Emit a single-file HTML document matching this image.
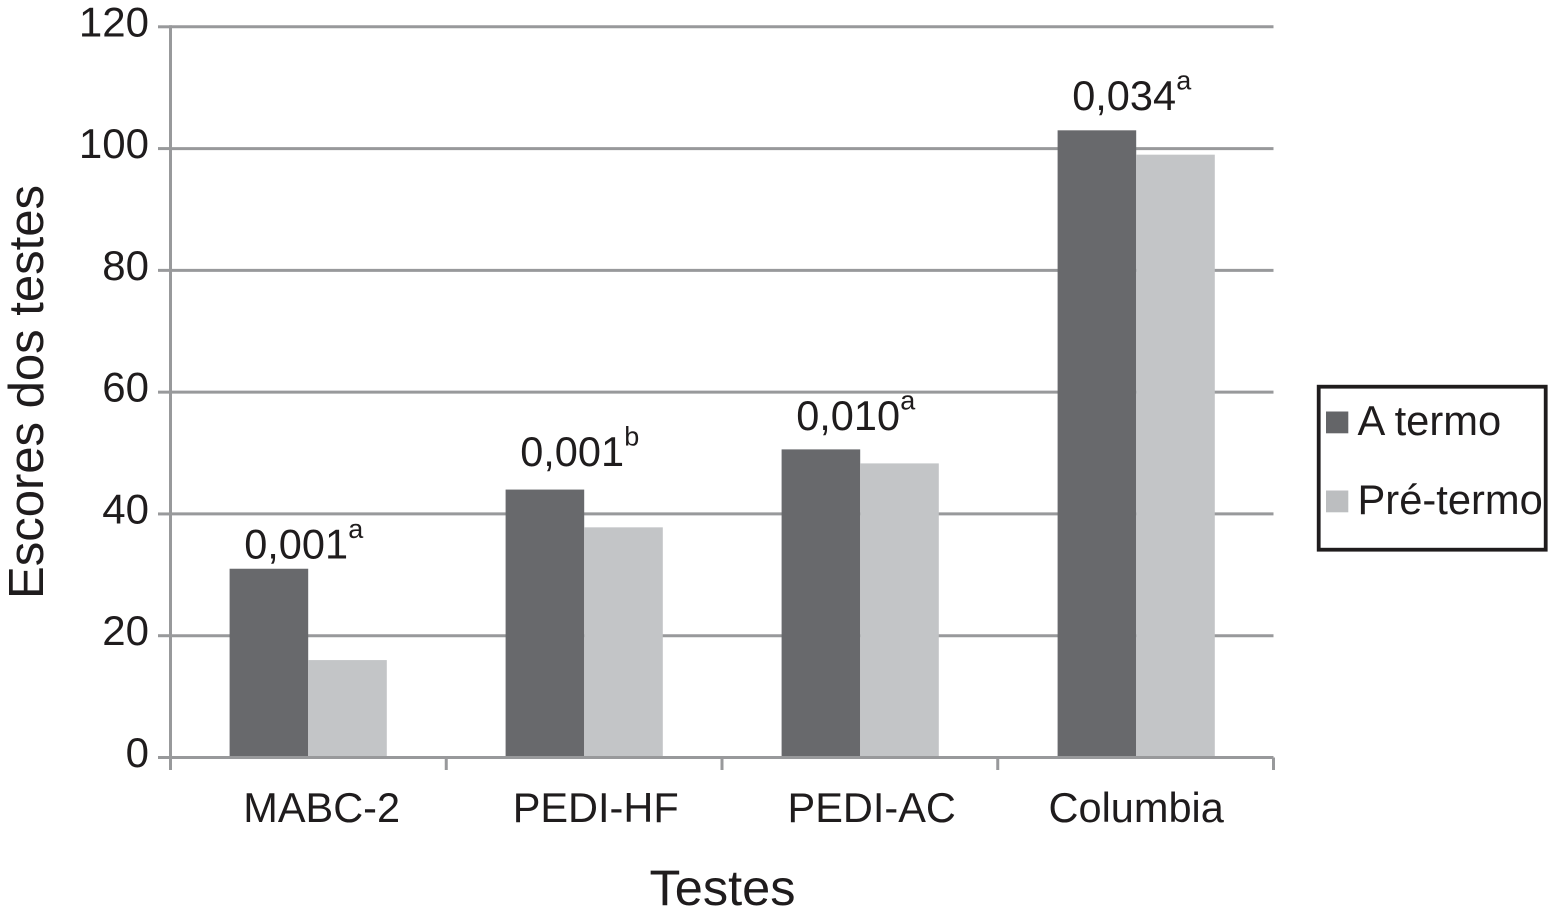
<!DOCTYPE html>
<html>
<head>
<meta charset="utf-8">
<style>
html,body{margin:0;padding:0;background:#fff;width:1548px;height:916px;overflow:hidden}
svg{display:block;font-family:"Liberation Sans",sans-serif;fill:#1f1c1d}
</style>
</head>
<body>
<svg id="chart" width="1548" height="916" viewBox="0 0 1548 916" xmlns="http://www.w3.org/2000/svg"></svg>
<script>
const categories = ["MABC-2", "PEDI-HF", "PEDI-AC", "Columbia"];
const termoValues = [31, 44, 50.6, 103];
const pretermoValues = [16, 37.8, 48.3, 99];
const pValues = ["0,001", "0,001", "0,010", "0,034"];
const pMarks = ["a", "b", "a", "a"];
const pLabelLift = [1.7, 3.9, 3.2, 3.3];
const yTicks = [0, 20, 40, 60, 80, 100, 120];
const seriesNames = ["A termo", "Pré-termo"];

const svg = document.getElementById('chart');
const NS = 'http://www.w3.org/2000/svg';
const left = 170.5, right = 1273.5, top0 = 26.8, bottom = 757.5, yMax = 120;
const axisColor = '#98999b';
const y = v => bottom - (v / yMax) * (bottom - top0);
const band = (right - left) / categories.length;
const x = i => left + band * i;
const barCenter = i => 308.2 + 276 * i;
const barW = 78.6;
const xLabelShift = i => (i === 3 ? 0 : i === 0 ? 13.5 : 11.5);

function mk(tag, attrs, text) {
  const el = document.createElementNS(NS, tag);
  for (const k in attrs) el.setAttribute(k, attrs[k]);
  if (text !== undefined) el.textContent = text;
  svg.appendChild(el);
  return el;
}

yTicks.forEach(t => {
  if (t > 0) {
    const g = mk('line', {x1: left, x2: right, y1: y(t), y2: y(t), stroke: axisColor, 'stroke-width': 3});
    
    
  }
  const tk = mk('line', {x1: 158, x2: left, y1: y(t), y2: y(t), stroke: axisColor, 'stroke-width': 3});
  
  
  const lb = mk('text', {x: 149, y: y(t) + 9.5, 'text-anchor': 'end', 'font-size': 42}, t);
  
  
});

categories.forEach((c, i) => {
  const cx = barCenter(i);
  const h1 = y(termoValues[i]);
  const b1 = mk('rect', {x: cx - barW, y: h1, width: barW, height: 757 - h1, fill: '#68696c'});
  
  
  const h2 = y(pretermoValues[i]);
  const b2 = mk('rect', {x: cx, y: h2, width: barW, height: 757 - h2, fill: '#c3c5c7'});
  
  
  const lb = mk('text', {x: cx + xLabelShift(i), y: 822, 'text-anchor': 'middle', 'font-size': 41.5}, c);
  
  
  const base = y(termoValues[i] + pLabelLift[i]);
  const p = mk('text', {x: cx - 79 + 15, y: base, 'font-size': 41.5}, pValues[i]);
  
  
  const m = mk('text', {x: cx - 79 + 119, y: base - 20.5, 'font-size': 27}, pMarks[i]);
  
  
});

const axisY = mk('line', {x1: left, x2: left, y1: top0 - 1.5, y2: 770, stroke: axisColor, 'stroke-width': 3});


const axisX = mk('line', {x1: 158, x2: right, y1: bottom, y2: bottom, stroke: axisColor, 'stroke-width': 3});


for (let i = 0; i <= categories.length; i++) {
  const t = mk('line', {x1: x(i), x2: x(i), y1: bottom, y2: 770, stroke: axisColor, 'stroke-width': 3});
  
  
}

const yTitle = mk('text', {transform: 'translate(43,392) rotate(-90)', 'text-anchor': 'middle', 'font-size': 49}, 'Escores dos testes');


const xTitle = mk('text', {x: 722.5, y: 905, 'text-anchor': 'middle', 'font-size': 50.5}, 'Testes');



const box = mk('rect', {x: 1318.7, y: 386.7, width: 227, height: 163, fill: '#fff', stroke: '#1f1c1d', 'stroke-width': 3.8});


const colors = ['#646568', '#bcbec0'];
const rows = [435, 514];
seriesNames.forEach((s, i) => {
  const sw = mk('rect', {x: 1326, y: rows[i] - 23.5, width: 22.3, height: 21.8, fill: colors[i]});
  
  
  const t = mk('text', {x: 1357.5, y: rows[i], 'font-size': 41.7}, s);
  
  
});
</script>
</body>
</html>
